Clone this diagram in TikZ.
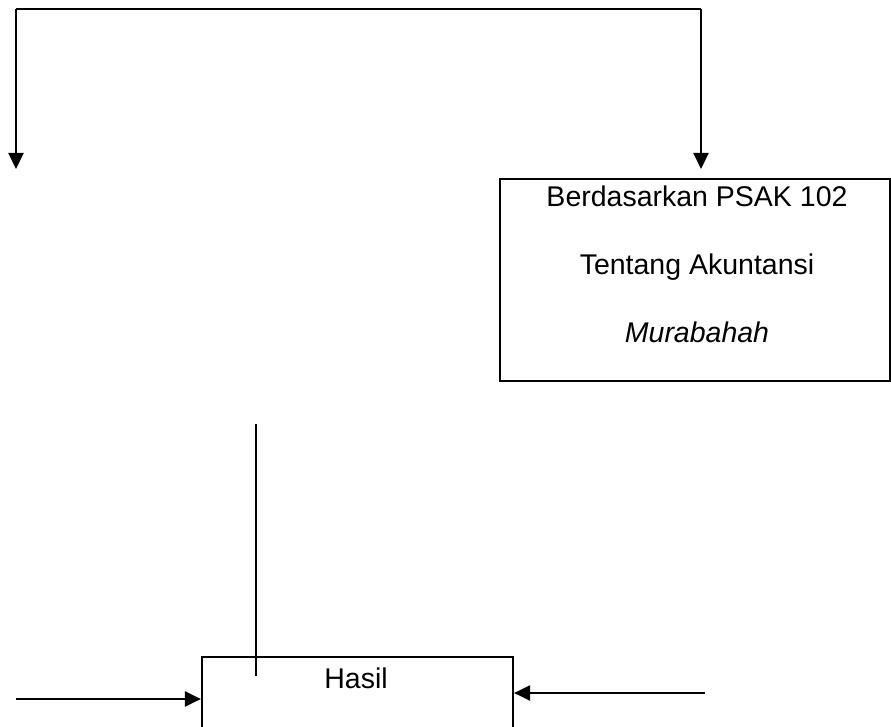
\documentclass[tikz,border=0pt]{standalone}
\usepackage{fontspec}
\setmainfont{Liberation Sans}
\usetikzlibrary{arrows.meta,calc}
\begin{document}
\begin{tikzpicture}[x=1pt,y=-1pt,
  line/.style={line width=2.2pt},
  arr/.style={line width=2.2pt,-{Triangle[width=15pt,length=16pt]}},
  boxnode/.style={draw,line width=2.2pt,inner sep=0pt},
  txt/.style={font=\fontsize{28.5}{34}\selectfont,anchor=base,inner sep=0pt}]
\useasboundingbox (0,0) rectangle (891,727);
\clip (0,0) rectangle (891,727);
% top connector
\coordinate (tl) at (16,9);
\coordinate (tr) at (701,9);
\coordinate (lend) at (16,169);
\coordinate (rend) at (701,169);
\draw[line] (tl) -- (tr);
\draw[arr] (tl) -- (lend);
\draw[arr] (tr) -- (rend);
% PSAK box
\node[boxnode,minimum width=390pt,minimum height=202pt] (psak) at (695,280) {};
\node[txt] (t1) at (697,207) {Berdasarkan PSAK 102};
\node[txt] (t2) at (697,275) {Tentang Akuntansi};
\node[txt] (t3) at (697,342) {\itshape Murabahah};
% Hasil box
\node[boxnode,minimum width=311pt,minimum height=140pt] (hasil) at (357.5,727) {};
\node[txt] (h) at (356,688) {Hasil};
% vertical line
\coordinate (vt) at (256,424);
\coordinate (vb) at (256,676);
\draw[line width=1.6pt] (vt) -- (vb);
% side arrows
\coordinate (la) at (16,699);
\coordinate (ra) at (705,693);
\draw[arr] (la) -- (la -| hasil.west);
\draw[arr] (ra) -- (ra -| hasil.east);
\end{tikzpicture}
\end{document}
